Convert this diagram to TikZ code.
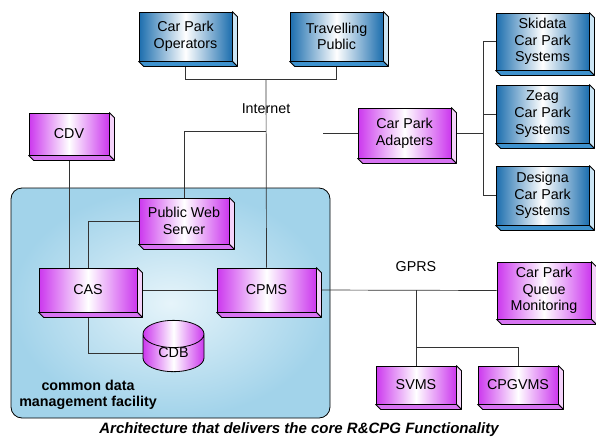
\documentclass[tikz,border=0pt]{standalone}
\usepackage{fontspec}
\setmainfont{Liberation Sans}
\usetikzlibrary{shapes.geometric,backgrounds}

\definecolor{blueface}{HTML}{1C6EAE}
\definecolor{blueright}{HTML}{CBE5F5}
\definecolor{bluebottom}{HTML}{3E92CE}
\definecolor{pinkface}{HTML}{CC38EE}
\definecolor{pinkright}{HTML}{F4D2FA}
\definecolor{pinkbottom}{HTML}{D774F2}
\definecolor{facilityblue}{HTML}{A2D3EA}
\definecolor{facilitylight}{HTML}{E6F4FA}

\begin{document}
\begin{tikzpicture}[x=1pt,y=-1pt]
\tikzset{
	box font/.style = {font=\fontsize{14.3}{16.7}\selectfont},
	base box/.style = {draw, line width=0.8pt, align=center, inner sep=0, box font},
	ext box/.style = {base box, left color=blueface, right color=blueface, middle color=white},
	int box/.style = {base box, left color=pinkface, right color=pinkface, middle color=white},
	wh/.style 2 args = {minimum width=#1pt, minimum height=#2pt},
	link/.style = {line width=0.7pt, draw=black!80},
	facility/.style = {draw, line width=0.8pt, rounded corners=11pt, inner color=facilitylight, outer color=facilityblue},
}
\useasboundingbox (0,0) rectangle (596,442);

% external parties
\node(cpo)[ext box, wh={93}{49}] at (185.5,36.5) {Car Park\\Operators};
\node(tp)[ext box, wh={93}{49}] at (336.5,36.5) {Travelling\\Public};
\node(skidata)[ext box, wh={93}{57}] at (542.5,41.5) {Skidata\\Car Park\\Systems};
\node(zeag)[ext box, wh={93}{58}] at (542.5,114) {Zeag\\Car Park\\Systems};
\node(designa)[ext box, wh={93}{59}] at (542.5,195.5) {Designa\\Car Park\\Systems};

% R&CPG components
\node(adapters)[int box, wh={93}{50}] at (404.5,133) {Car Park\\Adapters};
\node(cdv)[int box, wh={80}{42}] at (69,134) {CDV};
\node(pws)[int box, wh={90}{46}] at (184,221) {Public Web\\Server};
\node(cas)[int box, wh={98}{44}] at (88,290) {CAS};
\node(cpms)[int box, wh={99}{44}] at (266.5,290) {CPMS};
\node(cpqm)[int box, wh={94}{57}] at (544,290.5) {Car Park\\Queue\\Monitoring};
\node(svms)[int box, wh={80}{38}] at (416,385) {SVMS};
\node(cpgvms)[int box, wh={80}{38}] at (518,385) {CPGVMS};
\node(cdb)[int box, cylinder, shape border rotate=90, aspect=0.9,
	minimum width=61pt, minimum height=38pt] at (173.5,353) {CDB};

% 3d sides
\foreach \n/\r/\b in {cpo/blueright/bluebottom, tp/blueright/bluebottom,
	skidata/blueright/bluebottom, zeag/blueright/bluebottom, designa/blueright/bluebottom,
	adapters/pinkright/pinkbottom, cdv/pinkright/pinkbottom, pws/pinkright/pinkbottom,
	cas/pinkright/pinkbottom, cpms/pinkright/pinkbottom, cpqm/pinkright/pinkbottom,
	svms/pinkright/pinkbottom, cpgvms/pinkright/pinkbottom}{
	\filldraw[fill=\r, line width=0.8pt, line join=round] (\n.north east) -- ++(5,5)
		-- ([shift={(5,5)}]\n.south east) -- (\n.south east) -- cycle;
	\filldraw[fill=\b, line width=0.8pt, line join=round] (\n.south west) -- ++(5,5)
		-- ([shift={(5,5)}]\n.south east) -- (\n.south east) -- cycle;
}

\node(cdmf)[font=\bfseries\fontsize{14.3}{16.2}\selectfont, align=center] at (88,395)
	{common data\\management facility};
\node(inet)[box font] at (266,109) {Internet};
\node(gprslbl)[box font] at (416,267) {GPRS};
\node(caption)[font=\bfseries\itshape\fontsize{15}{17}\selectfont] at (299,430)
	{Architecture that delivers the core R\&CPG Functionality};

\coordinate(hub) at (266,79);
\coordinate(webj) at (266,131);
\coordinate(adpin) at (323,133);
\coordinate(bus) at (483,133);
\coordinate(gprs) at (416,290);
\coordinate(split) at (416,347);

\begin{scope}[on background layer]
\path[facility] (11,188) rectangle (330,418);
\draw[link] (cpo.south) |- (hub);
\draw[link] (tp.south) |- (hub);
\draw[link] (hub) -- (cpms.north);
\draw[link] (webj) -| (pws.north);
\draw[link] (adpin) -- (adapters.west);
\draw[link] (adapters.east) -- (bus);
\draw[link] (bus) |- (skidata.west);
\draw[link] (bus) |- (zeag.west);
\draw[link] (bus) |- (designa.west);
\draw[link] (cdv.south) -- (cdv.south |- cas.north);
\draw[link] (cas.north) |- (pws.west);
\draw[link] (cas.east) -- (cpms.west);
\draw[link] (cas.south) |- (cdb.west);
\draw[link] (cpms.east) -- (cpqm.west);
\draw[link] (gprs) -- (svms.north);
\draw[link] (split) -| (cpgvms.north);
\end{scope}

\end{tikzpicture}
\end{document}
